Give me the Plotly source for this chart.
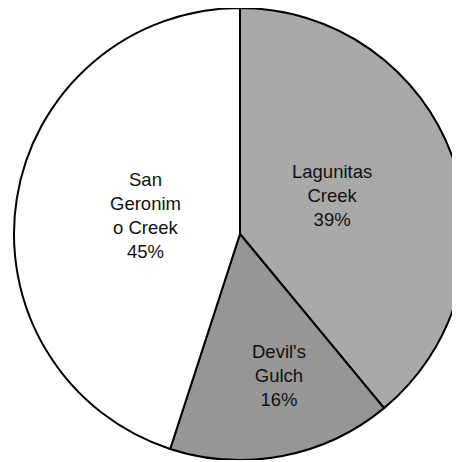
import math
import plotly.graph_objects as go

labels = ["Lagunitas Creek", "Devil's Gulch", "San Geronimo Creek"]
label_lines = ["Lagunitas<br>Creek", "Devil's<br>Gulch", "San<br>Geronim<br>o Creek"]
values = [39, 16, 45]
pct_text = ["39%", "16%", "45%"]
colors = ["#a9a9a9", "#969696", "#ffffff"]

# label placement style (fraction of radius along slice bisector, pixel nudges)
label_rfrac = [0.44, 0.65, 0.43]
label_xshift = [-2, 11, 1]
label_yshift = [5, 3, 3]

fig = go.Figure(go.Pie(
    labels=labels,
    values=values,
    textinfo="none",
    sort=False,
    direction="clockwise",
    rotation=0,
    marker=dict(colors=colors, line=dict(color="#000000", width=2)),
    hoverinfo="label+percent",
    showlegend=False,
    domain=dict(x=[0, 1], y=[0, 1]),
))

total = sum(values)
cum = 0
for i, v in enumerate(values):
    mid = (cum + v / 2) / total * 2 * math.pi
    cum += v
    f = label_rfrac[i]
    fig.add_annotation(
        x=0.5 + 0.5 * f * math.sin(mid),
        y=0.5 + 0.5 * f * math.cos(mid),
        xref="paper", yref="paper",
        text=f"{label_lines[i]}<br>{pct_text[i]}",
        showarrow=False,
        xanchor="center", yanchor="middle",
        xshift=label_xshift[i], yshift=label_yshift[i],
        font=dict(family="Liberation Sans, Arial, sans-serif", size=18.5, color="#111111"),
    )

fig.update_layout(
    width=458, height=452,
    margin=dict(l=6, r=0, t=0, b=0),
    paper_bgcolor="#ffffff",
    plot_bgcolor="#ffffff",
)

fig.write_html("out.html")
